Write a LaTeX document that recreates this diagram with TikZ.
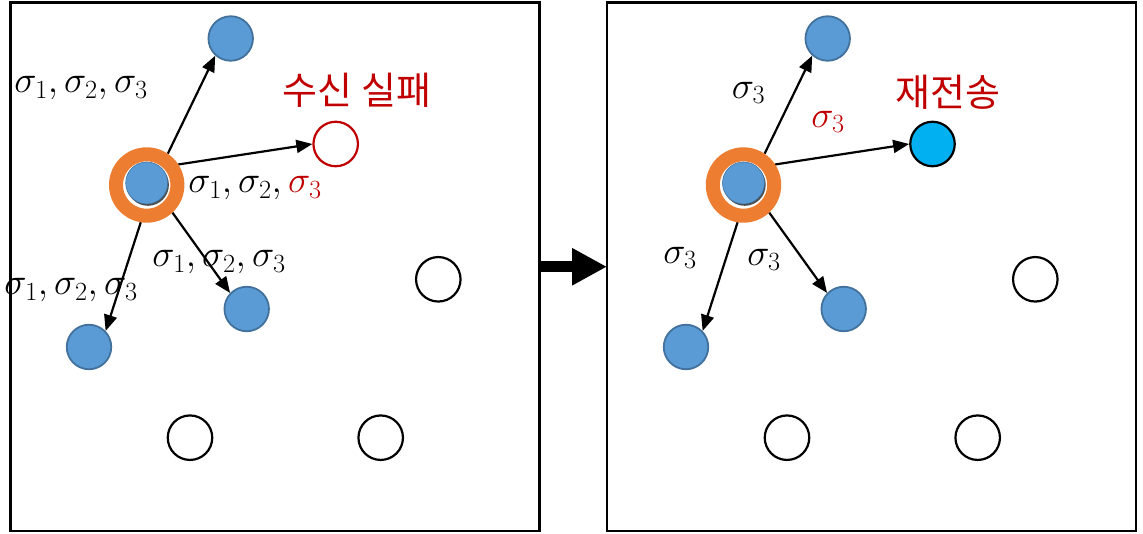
\RequirePackage{fix-cm}
\documentclass[tikz,border=0pt]{standalone}
\usepackage{fontspec}
\newfontfamily\krfont{Noto Sans CJK KR}
\usetikzlibrary{arrows.meta,shadows}
\pgfdeclarelayer{bg}
\pgfsetlayers{bg,main}
\definecolor{nodeblue}{HTML}{5B9BD5}
\definecolor{nodeedge}{HTML}{41719C}
\definecolor{hubring}{HTML}{ED7D31}
\definecolor{failred}{HTML}{C00000}
\definecolor{resendcyan}{HTML}{00B0F0}
\begin{document}
\begin{tikzpicture}[x=1pt,y=-1pt,
  panel/.style={draw=black, line width=2.5pt, minimum width=529pt, minimum height=528.5pt, inner sep=0pt, outer sep=0pt},
  dev/.style={circle, draw=nodeedge, fill=nodeblue, line width=1.8pt, minimum size=44.5pt, inner sep=0pt},
  idle/.style={circle, draw=black, fill=white, line width=2.2pt, minimum size=44.5pt, inner sep=0pt},
  lost/.style={idle, draw=failred},
  resent/.style={idle, fill=resendcyan},
  ring/.style={circle, draw=hubring, fill=white, line width=14pt, minimum size=61.4pt, inner sep=0pt},
  hub/.style={circle, fill=nodeblue, draw=nodeedge, line width=0.6pt, minimum size=42pt, inner sep=0pt,
    drop shadow={shadow xshift=1.2pt, shadow yshift=-1.8pt, fill=black!70, opacity=1}},
  link/.style={line width=2.2pt, -{Triangle[length=16pt,width=13pt]}},
  lbl/.style={inner sep=0pt, font=\fontsize{37.5}{42}\selectfont},
  krlbl/.style={inner sep=0pt, text=failred, font=\krfont\fontsize{38}{44}\selectfont}]
\useasboundingbox (0,0) rectangle (1143,534);

% ---------- left panel: first broadcast ----------
\node[panel] (leftP) at (275,266.75) {};
\node[ring] (hubL) at (146.7,185) {};
\node[hub] (hubLc) at (146.7,183) {};
\node[dev] (topL) at (230.7,38.5) {};
\node[lost] (failL) at (335.7,144) {};
\node[dev] (midL) at (246.7,309) {};
\node[dev] (lowL) at (89,347) {};
\node[idle] (eA) at (438.3,279.3) {};
\node[idle] (eB) at (190,437.7) {};
\node[idle] (eC) at (380.7,437.7) {};

\begin{pgfonlayer}{bg}
\draw[link] (hubL.56) -- (topL.228);
\draw[link] (hubL.33) -- (failL.180);
\draw[link] (hubL.-47) -- (midL.136);
\draw[link] (hubL.-99) -- (lowL.44);
\end{pgfonlayer}

\node[lbl] (l1) at (81,88) {$\sigma_1,\sigma_2,\sigma_3$};
\node[lbl] (l2) at (255,188) {$\sigma_1,\sigma_2,\textcolor{failred}{\sigma_3}$};
\node[lbl] (l3) at (219,262) {$\sigma_1,\sigma_2,\sigma_3$};
\node[lbl] (l4) at (71,290) {$\sigma_1,\sigma_2,\sigma_3$};
\node[krlbl] (failtxt) at (357,90) {수신 실패};

% ---------- right panel: retransmission ----------
\node[panel] (rightP) at (871.5,266.75) {};
\node[ring] (hubR) at (743.5,185) {};
\node[hub] (hubRc) at (743.5,183) {};
\node[dev] (topR) at (827.7,38.5) {};
\node[resent] (resR) at (932.5,144) {};
\node[dev] (midR) at (843.7,309) {};
\node[dev] (lowR) at (686,347) {};
\node[idle] (fA) at (1035.3,279.3) {};
\node[idle] (fB) at (787,437.7) {};
\node[idle] (fC) at (977.7,437.7) {};

\begin{pgfonlayer}{bg}
\draw[link] (hubR.56) -- (topR.228);
\draw[link] (hubR.33) -- (resR.180);
\draw[link] (hubR.-47) -- (midR.136);
\draw[link] (hubR.-99) -- (lowR.44);
\end{pgfonlayer}

\node[lbl] (r1) at (748.5,93) {$\sigma_3$};
\node[lbl, text=failred] (r2) at (828,122) {$\sigma_3$};
\node[lbl] (r3) at (680,258) {$\sigma_3$};
\node[lbl] (r4) at (764,260) {$\sigma_3$};
\node[krlbl] (restxt) at (948,92) {재전송};

% ---------- transition arrow ----------
\draw[line width=11pt, -{Triangle[length=35pt,width=35pt]}] (leftP.east) -- (rightP.west);
\end{tikzpicture}
\end{document}
